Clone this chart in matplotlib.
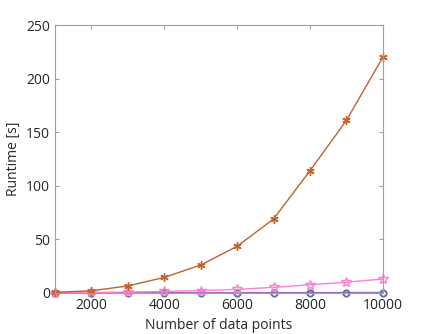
import matplotlib
matplotlib.use('Agg')
import matplotlib.pyplot as plt

plt.rcParams['font.family'] = ['Open Sans', 'DejaVu Sans']

n_points = [1000, 2000, 3000, 4000, 5000, 6000, 7000, 8000, 9000, 10000]
runtime_star = [0.5, 2.0, 6.5, 14.5, 26.0, 43.5, 69.0, 114.0, 161.0, 220.0]
runtime_pent = [0.1, 0.4, 0.8, 1.4, 2.2, 3.3, 5.2, 7.6, 10.0, 13.0]
runtime_orange = [0.05, 0.08, 0.1, 0.12, 0.15, 0.18, 0.2, 0.22, 0.25, 0.3]
runtime_purple = [0.02, 0.03, 0.04, 0.05, 0.06, 0.07, 0.08, 0.09, 0.1, 0.11]

fig = plt.figure(figsize=(4.23, 3.34), dpi=100)
ax = fig.add_axes([0.130, 0.123, 0.775, 0.802])

ax.plot(n_points, runtime_orange, color='#D95319', lw=1, marker='o', ms=4.5,
        mfc='none', mec='#D95319', clip_on=False)
ax.plot(n_points, runtime_purple, color='#9E6FB8', lw=1.3, marker='o', ms=4.5,
        mfc='none', mec='#5D6FA8', mew=1.2, clip_on=False)
ax.plot(n_points, runtime_pent, color='#FF7FD0', lw=1, marker='*', ms=7,
        mfc='none', mec='#FF7FD0', clip_on=False)
ax.plot(n_points, runtime_star, color='#C0622A', lw=1, marker=(6, 2, 0), ms=6,
        mec='#C0622A', clip_on=False)

ax.set_xlim(1000, 10000)
ax.set_ylim(0, 250)
ax.set_xticks([2000, 4000, 6000, 8000, 10000])
ax.set_yticks([0, 50, 100, 150, 200, 250])
ax.set_xlabel('Number of data points', fontsize=10, color='#262626')
ax.set_ylabel('Runtime [s]', fontsize=10, color='#262626')

for s in ax.spines.values():
    s.set_color('#A0A0A0')
    s.set_linewidth(0.8)
ax.tick_params(direction='in', length=3, color='#A0A0A0', labelsize=10,
               labelcolor='#262626', top=True, right=True,
               labeltop=False, labelright=False)

fig.savefig('out.png', dpi=100)
